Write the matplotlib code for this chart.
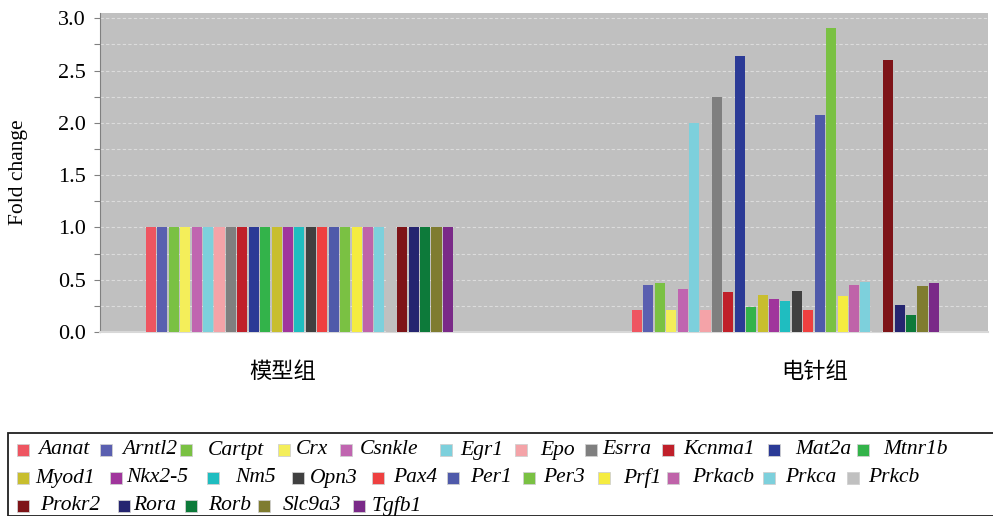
import matplotlib
matplotlib.use("Agg")
import matplotlib.pyplot as plt
from matplotlib.patches import Rectangle
from matplotlib.ticker import MultipleLocator
import numpy as np

# Genes (legend order) and fold change per group
genes = ["Aanat", "Arntl2", "Cartpt", "Crx", "Csnkle", "Egr1", "Epo", "Esrra",
         "Kcnma1", "Mat2a", "Mtnr1b", "Myod1", "Nkx2-5", "Nm5", "Opn3", "Pax4",
         "Per1", "Per3", "Prf1", "Prkacb", "Prkca", "Prkcb", "Prokr2", "Rora",
         "Rorb", "Slc9a3", "Tgfb1"]
groups = ["模型组", "电针组"]
model_values = [1.0] * 27
acup_values = [0.21, 0.45, 0.47, 0.21, 0.41, 2.00, 0.21, 2.25,
               0.38, 2.64, 0.24, 0.35, 0.32, 0.30, 0.39, 0.21,
               2.07, 2.91, 0.34, 0.45, 0.48, 0.40, 2.60, 0.26,
               0.16, 0.44, 0.47]
colors = ["#ee5561", "#5a5fb0", "#7ac143", "#f4ee5a", "#c065b0", "#7dd0dc",
          "#f4a3a8", "#7f7f7f", "#c0202a", "#2b3a96", "#33b34a", "#c8be2e",
          "#a0359c", "#1fbdc0", "#404040", "#ee4040", "#4f5aaa", "#7ac143",
          "#f5ec40", "#bf63a9", "#7dd0dc", "#c0c0c0", "#7e1418", "#252570",
          "#0d7a3a", "#7f7c30", "#7a2a88"]

W, H = 993, 516
fig = plt.figure(figsize=(W / 100, H / 100), dpi=100)
fig.patch.set_facecolor("white")

ax = fig.add_axes([100 / W, (H - 332) / H, 888 / W, (332 - 13) / H])
ax.set_facecolor("#c0c0c0")

# bar layout: one unit per gene, two clusters
step_px = 11.42
group_start = [(151 - 100) / step_px, (637 - 100) / step_px]
bar_w = 0.88
series = [model_values, acup_values]
n = len(genes)
for g, vals in enumerate(series):
    x = group_start[g] + np.arange(n)
    ax.bar(x, vals, width=bar_w, color=colors, edgecolor="none", zorder=3)

ax.set_xlim(0, 888 / step_px)
ax.set_ylim(0, 3.05)

ax.yaxis.set_major_locator(MultipleLocator(0.5))
ax.yaxis.set_minor_locator(MultipleLocator(0.25))
ax.yaxis.set_major_formatter(matplotlib.ticker.FormatStrFormatter("%.1f"))
ax.grid(True, axis="y", which="both", color="#dcdcdc", linestyle=(0, (3, 2)),
        linewidth=0.8, zorder=1)
ax.tick_params(axis="y", which="both", direction="out", color="#808080",
               length=4, width=0.8, labelsize=16, pad=6)
for lbl in ax.get_yticklabels():
    lbl.set_family("Liberation Serif")

ax.set_xticks([(283 - 100) / step_px, (815 - 100) / step_px])
ax.set_xticklabels(groups, fontsize=16, family=["Noto Sans CJK SC", "DejaVu Sans"])
ax.tick_params(axis="x", length=0, pad=20)

for side in ["top", "right"]:
    ax.spines[side].set_visible(False)
ax.spines["left"].set_color("#808080")
ax.spines["bottom"].set_color("#d8d8d8")
ax.spines["bottom"].set_linewidth(1.5)

ax.set_ylabel("Fold change", family="Liberation Serif", fontsize=15.5)
ax.yaxis.set_label_coords(-72 / 888, 0.5)

# legend box, drawn in pixel coordinates
def px(x, y):
    return x / W, (H - y) / H

lx, ly = px(8, 433)
fig.patches.append(Rectangle((lx, 0), 1.2, ly, transform=fig.transFigure,
                             fill=False, edgecolor="#202020", linewidth=1.3))

legend_rows = [genes[0:11], genes[11:22], genes[22:27]]
marker_x = [[17, 100, 180, 278, 340, 440, 515, 585, 662, 768, 857],
            [17, 110, 207, 292, 372, 447, 523, 598, 667, 763, 847],
            [17, 118, 185, 258, 353]]
text_x = [[38, 122, 208, 296, 360, 460, 540, 602, 683, 795, 883],
          [35, 126, 235, 310, 393, 470, 543, 623, 692, 785, 868],
          [40, 133, 208, 283, 372]]
row_y = [450, 478, 506]
sq = 12
idx = 0
for r, row in enumerate(legend_rows):
    for k, name in enumerate(row):
        mx, my = px(marker_x[r][k], row_y[r] + sq / 2)
        fig.patches.append(Rectangle((mx, my), sq / W, sq / H,
                                     transform=fig.transFigure,
                                     facecolor=colors[idx], edgecolor="#d0d0d0",
                                     linewidth=0.6))
        tx, ty = px(text_x[r][k], row_y[r])
        fig.text(tx, ty, name, family="Liberation Serif", style="italic",
                 fontsize=15.5, va="center", ha="left")
        idx += 1

fig.savefig("out.png", dpi=100)
